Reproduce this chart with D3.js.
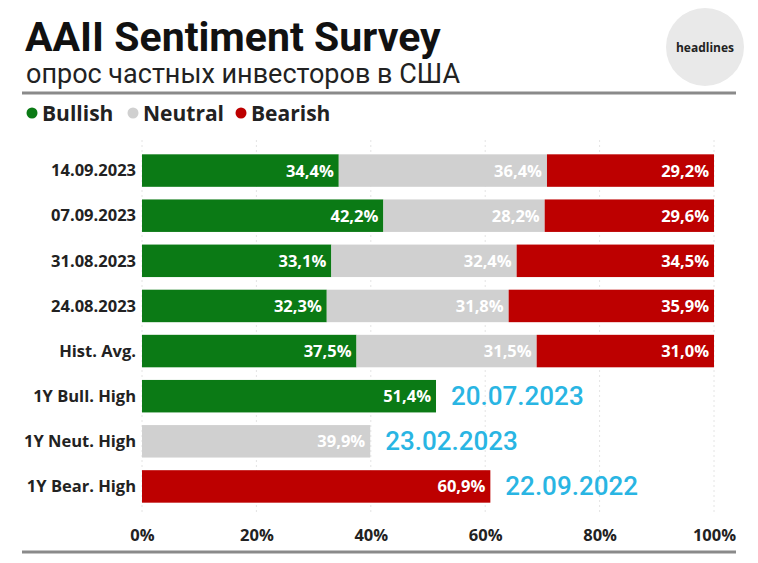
<!DOCTYPE html>
<html><head><meta charset="utf-8">
<script src="https://cdn.jsdelivr.net/npm/d3@7"></script>
<style>body{margin:0;background:#fff}svg{display:block}</style>
</head><body>
<script>
const categories = ["14.09.2023","07.09.2023","31.08.2023","24.08.2023","Hist. Avg.","1Y Bull. High","1Y Neut. High","1Y Bear. High"];
const bullish = [34.4, 42.2, 33.1, 32.3, 37.5, 51.4, 0, 0];
const neutral = [36.4, 28.2, 32.4, 31.8, 31.5, 0, 39.9, 0];
const bearish = [29.2, 29.6, 34.5, 35.9, 31.0, 0, 0, 60.9];
const highDates = ["", "", "", "", "", "20.07.2023", "23.02.2023", "22.09.2022"];
const xTicks = [0, 20, 40, 60, 80, 100];
const seriesNames = ["Bullish", "Neutral", "Bearish"];
const colors = ["#0b7a15", "#d0d0d0", "#bd0000"];

const W = 758, H = 563;
const svg = d3.select("body").append("svg").attr("width", W).attr("height", H);

// Title
svg.append("text").attr("x", 25).attr("y", 51).text("AAII Sentiment Survey")
  .attr("font-family", "Roboto, 'Open Sans', sans-serif").attr("font-weight", 700)
  .attr("font-size", 41).attr("fill", "#111");
svg.append("text").attr("x", 26).attr("y", 83).text("опрос частных инвесторов в США")
  .attr("font-family", "Roboto, sans-serif").attr("font-weight", 400)
  .attr("font-size", 27).attr("fill", "#222");
svg.append("circle").attr("cx", 705).attr("cy", 47).attr("r", 39).attr("fill", "#e9e9e9");
svg.append("text").attr("x", 705).attr("y", 52).attr("text-anchor", "middle").text("headlines")
  .attr("font-family", "'Open Sans', sans-serif").attr("font-weight", 700)
  .attr("font-size", 12).attr("fill", "#222");
svg.append("line").attr("x1", 22).attr("x2", 736).attr("y1", 93).attr("y2", 93)
  .attr("stroke", "#8a8a8a").attr("stroke-width", 3);

// Legend
const legX = [32, 133, 241];
seriesNames.forEach((n, i) => {
  svg.append("circle").attr("cx", legX[i]).attr("cy", 113).attr("r", 5.5).attr("fill", colors[i]);
  svg.append("text").attr("x", legX[i] + 10).attr("y", 121).text(n)
    .attr("font-family", "'Open Sans', sans-serif").attr("font-weight", 700)
    .attr("font-size", 21).attr("fill", "#222");
});

// Scales
const x = d3.scaleLinear().domain([0, 100]).range([142, 714]);
const y = d3.scaleBand().domain(categories).range([148, 509]).paddingInner(0.28).paddingOuter(0.14);

// gridlines
svg.append("g").selectAll("line").data(xTicks).join("line")
  .attr("x1", d => x(d)).attr("x2", d => x(d)).attr("y1", 140).attr("y2", 515)
  .attr("stroke", "#e4e4e4").attr("stroke-dasharray", "2,3");

const data = categories.map((c, i) => ({cat: c, vals: [bullish[i], neutral[i], bearish[i]], date: highDates[i]}));
const rows = svg.append("g").selectAll("g").data(data).join("g");
rows.each(function(d) {
  const g = d3.select(this);
  let acc = 0;
  d.vals.forEach((v, k) => {
    if (v > 0) {
      const x0 = x(acc), x1 = x(acc + v);
      g.append("rect").attr("x", x0).attr("y", y(d.cat)).attr("width", x1 - x0)
        .attr("height", y.bandwidth()).attr("fill", colors[k]);
      g.append("text").attr("x", x1 - 5).attr("y", y(d.cat) + y.bandwidth() / 2 + 6)
        .attr("text-anchor", "end").text(d3.format(".1f")(v).replace(".", ",") + "%")
        .attr("font-family", "'Open Sans', sans-serif").attr("font-weight", 700)
        .attr("font-size", 16.5).attr("fill", "#fff");
      acc += v;
    }
  });
  if (d.date) {
    g.append("text").attr("x", x(acc) + 15).attr("y", y(d.cat) + y.bandwidth() / 2 + 9)
      .text(d.date).attr("font-family", "Roboto, sans-serif").attr("font-weight", 500)
      .attr("font-size", 26).attr("fill", "#29b5e3");
  }
});

// Category axis
const yAxis = svg.append("g").attr("transform", "translate(136,0)")
  .call(d3.axisLeft(y).tickSize(0).tickPadding(0));
yAxis.select(".domain").remove();
yAxis.selectAll("text").attr("font-family", "'Open Sans', sans-serif").attr("font-weight", 700)
  .attr("font-size", 16.5).attr("fill", "#222").attr("dy", "0.35em");

// X axis
const xAxis = svg.append("g").attr("transform", "translate(0,529)")
  .call(d3.axisBottom(x).tickValues(xTicks).tickFormat(d => d + "%").tickSize(0).tickPadding(0));
xAxis.select(".domain").remove();
xAxis.selectAll("text").attr("font-family", "'Open Sans', sans-serif").attr("font-weight", 700)
  .attr("font-size", 16.5).attr("fill", "#222").attr("dy", "0.71em");

svg.append("line").attr("x1", 22).attr("x2", 736).attr("y1", 552).attr("y2", 552)
  .attr("stroke", "#8a8a8a").attr("stroke-width", 3);
</script>
</body></html>
